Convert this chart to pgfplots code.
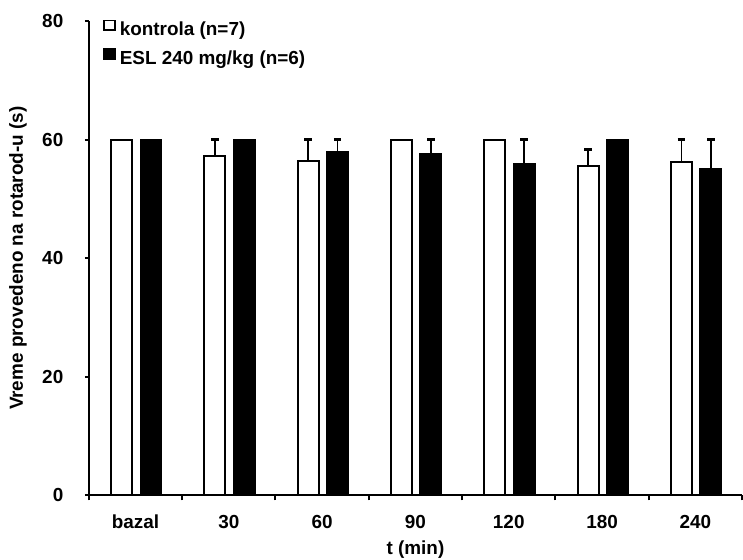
\documentclass[border=0pt]{standalone}
\usepackage{fontspec}
\setmainfont{Liberation Sans}
\usepackage{pgfplots}
\pgfplotsset{compat=1.18}
\usetikzlibrary{calc}

\newcommand{\lblfont}{\fontsize{9.5}{11}\selectfont\bfseries}

\begin{document}
\begin{tikzpicture}[font=\lblfont]
\begin{axis}[
    name=ax,
    scale only axis,
    width=327bp, height=237.5bp,
    xmin=-0.5, xmax=6.5,
    ymin=0, ymax=80,
    axis x line*=bottom, axis y line*=left,
    axis line style={line width=1bp, -},
    xtick={0,...,6},
    xticklabels={bazal,30,60,90,120,180,240},
    major x tick style={draw=none},
    minor xtick={-0.5,0.5,...,6.5},
    ytick={0,20,...,80},
    tick align=outside,
    major tick length=2bp, minor tick length=2.5bp,
    tick style={line width=1bp, black},
    /pgf/number format/assume math mode=true,
    every tick label/.append style={font=\lblfont},
    xticklabel style={yshift=-4.4bp},
    yticklabel style={xshift=-7.3bp},
    xlabel={t (min)},
    ylabel={Vreme provedeno na rotarod-u (s)},
    every axis label/.append style={font=\lblfont},
    xlabel style={at={(axis description cs:0.5,-0.114)}, anchor=center},
    ylabel style={at={(axis description cs:-0.1086,0.5)}, anchor=center},
    legend style={at={(axis description cs:0,1)}, anchor=north west,
        xshift=7bp, yshift=1.8bp, draw=none, fill=none, inner sep=0pt,
        row sep=2bp, font=\lblfont},
    legend cell align=left,
    legend image code/.code={\draw[#1,/tikz/.cd,line width=0.8bp] (0bp,0bp) rectangle (5.5bp,4.75bp);},
    err/.style={draw=none, mark=none, forget plot,
        error bars/.cd, y dir=plus, y explicit,
        error bar style={draw=black, line width=0.85bp},
        error mark=|,
        error mark options={draw=black, line width=1.2bp, mark size=1.9bp}},
]
% bars
\addplot[ybar, bar width=10.5bp, bar shift=-7bp, fill=white, draw=black, line width=1bp]
    coordinates {(0,60) (1,57.2) (2,56.4) (3,60) (4,60) (5,55.5) (6,56.2)};
\addlegendentry{kontrola (n=7)}
\addplot[ybar, bar width=10.5bp, bar shift=7.75bp, fill=black, draw=black, line width=1bp]
    coordinates {(0,60) (1,60) (2,57.9) (3,57.5) (4,55.8) (5,60) (6,55.1)};
\addlegendentry{ESL 240 mg/kg (n=6)}

% error bars (only where there is one)
\addplot[xshift=-7bp, err]
    coordinates {(1,57.2) +- (0,2.8) (2,56.4) +- (0,3.6) (5,55.5) +- (0,2.8) (6,56.2) +- (0,3.8)};
\addplot[xshift=7.75bp, err]
    coordinates {(2,57.9) +- (0,2.1) (3,57.5) +- (0,2.5) (4,55.8) +- (0,4.2) (6,55.1) +- (0,4.9)};
\end{axis}
\pgfresetboundingbox
\useasboundingbox ($(ax.south west)+(-44.5bp,-32bp)$) rectangle ($(ax.north east)+(0.5bp,10.5bp)$);
\end{tikzpicture}
\end{document}
